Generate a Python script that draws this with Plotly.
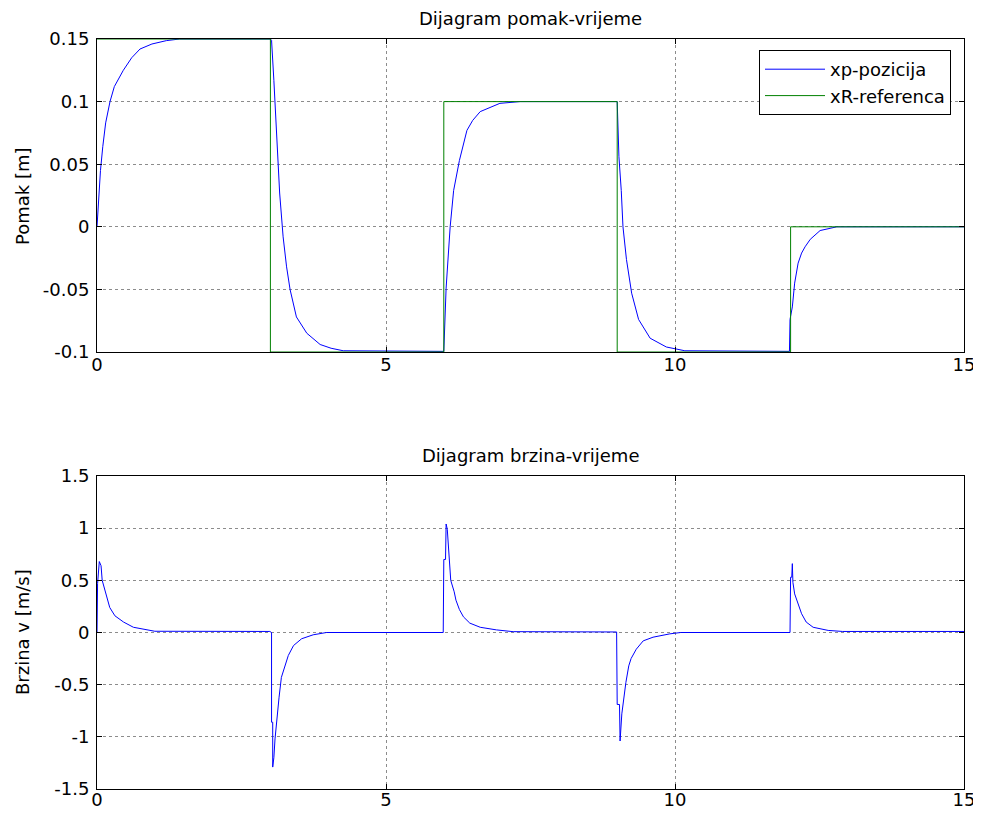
import plotly.graph_objects as go

# ---------------- data ----------------
# position response xp (m) vs time (s)
t_pos = [0.0, 0.03, 0.06, 0.10, 0.15, 0.225, 0.30, 0.455, 0.60, 0.744, 0.95, 1.20, 1.43, 3.00,
         3.02, 3.06, 3.10, 3.16, 3.22, 3.28, 3.34, 3.45, 3.63, 3.86, 4.05, 4.26, 6.00,
         6.02, 6.04, 6.11, 6.17, 6.27, 6.40, 6.50, 6.63, 6.97, 7.32, 9.00,
         9.01, 9.03, 9.07, 9.10, 9.16, 9.25, 9.37, 9.57, 9.85, 10.17, 11.98,
         11.99, 12.03, 12.07, 12.13, 12.19, 12.25, 12.34, 12.51, 12.80, 15.0]
x_pos = [0.0, 0.025, 0.045, 0.064, 0.083, 0.100, 0.112, 0.125, 0.135, 0.142, 0.146, 0.1487, 0.150, 0.150,
         0.149, 0.117, 0.080, 0.027, -0.008, -0.032, -0.050, -0.072, -0.085, -0.094, -0.097, -0.099, -0.0995,
         -0.080, -0.049, 0.000, 0.029, 0.053, 0.077, 0.085, 0.092, 0.0986, 0.100, 0.100,
         0.085, 0.056, 0.029, 0.000, -0.026, -0.053, -0.074, -0.089, -0.096, -0.099, -0.0995,
         -0.074, -0.064, -0.045, -0.029, -0.021, -0.016, -0.010, -0.003, 0.000, 0.000]

# reference xR (m), piecewise constant
t_ref = [0, 3, 6, 9, 12, 15]
x_ref = [0.15, -0.10, 0.10, -0.10, 0.0, 0.0]

# velocity v (m/s) vs time (s)
t_vel = [0.0, 0.01, 0.04, 0.07, 0.09, 0.14, 0.17, 0.22, 0.31, 0.46, 0.63, 0.80, 1.00, 2.99,
         3.02, 3.02, 3.04, 3.04, 3.06, 3.08, 3.11, 3.15, 3.19, 3.25, 3.31, 3.40, 3.54, 3.74, 3.97, 5.99,
         6.00, 6.03, 6.04, 6.06, 6.09, 6.12, 6.18, 6.21, 6.27, 6.34, 6.45, 6.63, 6.91, 7.20, 8.99,
         9.00, 9.04, 9.05, 9.08, 9.11, 9.15, 9.20, 9.24, 9.33, 9.45, 9.62, 9.91, 10.10, 11.99,
         12.00, 12.02, 12.03, 12.04, 12.07, 12.13, 12.19, 12.27, 12.39, 12.65, 12.90, 15.0]
v_vel = [0.0, 0.47, 0.68, 0.64, 0.50, 0.40, 0.34, 0.24, 0.16, 0.10, 0.05, 0.03, 0.012, 0.01,
         0.0, -0.86, -0.86, -1.29, -1.20, -1.02, -0.83, -0.62, -0.43, -0.33, -0.22, -0.125, -0.06, -0.022, 0.0, 0.0,
         0.70, 0.70, 1.04, 0.99, 0.77, 0.50, 0.39, 0.31, 0.22, 0.15, 0.09, 0.05, 0.025, 0.008, 0.005,
         -0.69, -0.69, -1.04, -0.78, -0.64, -0.48, -0.32, -0.25, -0.16, -0.08, -0.045, -0.013, 0.0, 0.0,
         0.53, 0.53, 0.66, 0.48, 0.37, 0.28, 0.18, 0.10, 0.05, 0.02, 0.01, 0.01]

x_ticks = [0, 5, 10, 15]
x_ticktext = ["0", "5", "10", "15"]
pos_ticks = [-0.1, -0.05, 0, 0.05, 0.1, 0.15]
pos_ticktext = ["-0.1", "-0.05", "0", "0.05", "0.1", "0.15"]
vel_ticks = [-1.5, -1, -0.5, 0, 0.5, 1, 1.5]
vel_ticktext = ["-1.5", "-1", "-0.5", "0", "0.5", "1", "1.5"]

title_top = "Dijagram pomak-vrijeme"
title_bot = "Dijagram brzina-vrijeme"
ylabel_top = "Pomak [m]"
ylabel_bot = "Brzina v [m/s]"
name_xp = "xp-pozicija"
name_xr = "xR-referenca"

# ---------------- figure ----------------
OFF = 8                      # page body margin of the html page
W, H = 981 - OFF, 819 - OFF
FONT = "DejaVu Sans, Liberation Sans, Arial, sans-serif"
FS = 18
BLUE = "#0000ff"
GREEN = "#008000"

def px_x(p):
    return (p - OFF) / W

def px_y(p):
    return 1 - (p - OFF) / H

fig = go.Figure()
fig.add_trace(go.Scatter(x=t_pos, y=x_pos, mode="lines", name=name_xp,
                         line=dict(color=BLUE, width=1), xaxis="x", yaxis="y"))
fig.add_trace(go.Scatter(x=t_ref, y=x_ref, mode="lines", name=name_xr, line_shape="hv",
                         line=dict(color=GREEN, width=1), xaxis="x", yaxis="y"))
fig.add_trace(go.Scatter(x=t_vel, y=v_vel, mode="lines", showlegend=False,
                         line=dict(color=BLUE, width=1), xaxis="x2", yaxis="y2"))

xdom = [px_x(97), px_x(964)]
axis_common = dict(showline=True, linecolor="black", linewidth=1, mirror="ticks",
                   ticks="inside", ticklen=5, tickcolor="black", tickwidth=1,
                   showgrid=True, gridcolor="#8c8c8c", gridwidth=1, griddash="dot",
                   zeroline=False, automargin=False,
                   tickfont=dict(family=FONT, size=FS, color="black"))

fig.update_layout(
    template="none",
    width=W, height=H, margin=dict(l=0, r=0, t=0, b=0, autoexpand=False),
    paper_bgcolor="white", plot_bgcolor="white",
    font=dict(family=FONT, size=FS, color="black"),
    xaxis=dict(domain=xdom, range=[0, 15], tickvals=x_ticks, ticktext=x_ticktext,
               anchor="y", ticklabelstandoff=-4, **axis_common),
    yaxis=dict(domain=[px_y(352), px_y(39)], range=[-0.1, 0.15], tickvals=pos_ticks,
               ticktext=pos_ticktext, anchor="x", ticklabelstandoff=3, **axis_common),
    xaxis2=dict(domain=xdom, range=[0, 15], tickvals=x_ticks, ticktext=x_ticktext,
                anchor="y2", ticklabelstandoff=-6, **axis_common),
    yaxis2=dict(domain=[px_y(789), px_y(476)], range=[-1.5, 1.5], tickvals=vel_ticks,
                ticktext=vel_ticktext, anchor="x2", ticklabelstandoff=3, **axis_common),
    legend=dict(x=px_x(951), y=px_y(50), xanchor="right", yanchor="top",
                bgcolor="white", bordercolor="black", borderwidth=1,
                font=dict(family=FONT, size=FS, color="black"),
                itemwidth=60, tracegroupgap=0),
    showlegend=True,
    annotations=[
        dict(text=title_top, x=px_x(530.5), y=px_y(18), xref="paper", yref="paper",
             showarrow=False, xanchor="center", yanchor="middle",
             font=dict(family=FONT, size=FS, color="black")),
        dict(text=title_bot, x=px_x(530.5), y=px_y(455), xref="paper", yref="paper",
             showarrow=False, xanchor="center", yanchor="middle",
             font=dict(family=FONT, size=FS, color="black")),
        dict(text=ylabel_top, x=px_x(22), y=px_y(196), xref="paper", yref="paper",
             showarrow=False, textangle=-90, xanchor="center", yanchor="middle",
             font=dict(family=FONT, size=FS, color="black")),
        dict(text=ylabel_bot, x=px_x(22), y=px_y(632), xref="paper", yref="paper",
             showarrow=False, textangle=-90, xanchor="center", yanchor="middle",
             font=dict(family=FONT, size=FS, color="black")),
    ],
)

fig.write_html("out.html")
